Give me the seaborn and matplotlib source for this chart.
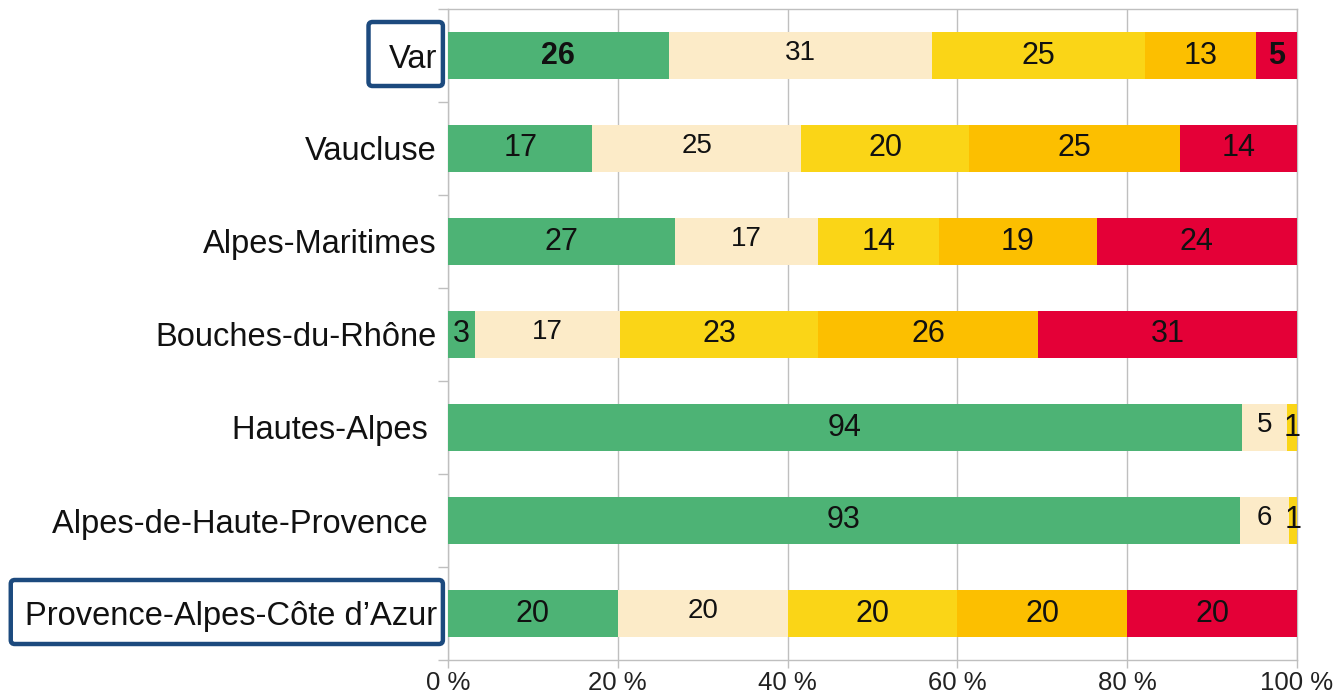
import matplotlib
matplotlib.use("Agg")
import matplotlib.pyplot as plt
import seaborn as sns
import numpy as np
import pandas as pd
from matplotlib.patches import FancyBboxPatch
from matplotlib.ticker import FixedLocator

categories = ["Var", "Vaucluse", "Alpes-Maritimes", "Bouches-du-Rhône",
              "Hautes-Alpes ", "Alpes-de-Haute-Provence ", "Provence-Alpes-Côte d’Azur"]
seg1 = [26.0, 17.0, 26.7, 3.2, 93.5, 93.3, 20.0]
seg2 = [31.0, 24.6, 16.9, 17.1, 5.3, 5.8, 20.0]
seg3 = [25.1, 19.8, 14.2, 23.3, 1.2, 0.9, 20.0]
seg4 = [13.1, 24.8, 18.6, 25.9, 0.0, 0.0, 20.0]
seg5 = [4.8, 13.8, 23.6, 30.5, 0.0, 0.0, 20.0]
labels1 = ["26", "17", "27", "3", "94", "93", "20"]
labels2 = ["31", "25", "17", "17", "5", "6", "20"]
labels3 = ["25", "20", "14", "23", "1", "1", "20"]
labels4 = ["13", "25", "19", "26", "", "", "20"]
labels5 = ["5", "14", "24", "31", "", "", "20"]
colors = ["#4db375", "#fcebc8", "#fad517", "#fcbf00", "#e40037"]
xticks = [0, 20, 40, 60, 80, 100]
xticklabels = ["0 %", "20 %", "40 %", "60 %", "80 %", "100 %"]
boxed = {"Var": 20, "Provence-Alpes-Côte d’Azur": 14}
bold_cells = [(0, 0), (0, 4)]

segs = [seg1, seg2, seg3, seg4, seg5]
labs = [labels1, labels2, labels3, labels4, labels5]

sns.set_theme(style="white")
plt.rcParams["font.family"] = ["Liberation Sans", "DejaVu Sans"]

fig = plt.figure(figsize=(13.35, 6.95), dpi=100)
ax = fig.add_axes([448/1335, 35/695, (1297-448)/1335, (660-9)/695])

cum = np.cumsum(np.array(segs), axis=0)
df = pd.DataFrame({"cat": categories})
for k in range(4, -1, -1):
    df["v"] = cum[k]
    sns.barplot(data=df, x="v", y="cat", orient="h", color=colors[k],
                saturation=1, width=0.5, ax=ax, zorder=3 + (4 - k),
                linewidth=0, edgecolor="none")

for k in range(5):
    left = cum[k] - np.array(segs[k])
    for i, cat in enumerate(categories):
        txt = labs[k][i]
        if not txt:
            continue
        cx = left[i] + segs[k][i] / 2
        bold = (i, k) in bold_cells
        fs = 22 if k != 1 else 20
        dy = 0 if k != 1 else -0.03
        ax.text(cx, i + dy, txt, ha="center", va="center", fontsize=fs,
                fontweight="bold" if bold else "normal", color="#111111", zorder=20)

ax.set_xlim(0, 100)
ax.set_ylim(len(categories) - 0.5, -0.5)
ax.set_xticks(xticks)
ax.set_xticklabels(xticklabels, fontsize=18.5, color="#222222")
ax.set_xlabel("")
ax.set_ylabel("")
ax.tick_params(axis="x", which="major", length=6, width=1, color="#bfbfbf",
               direction="out", bottom=True, pad=2)
ax.tick_params(axis="y", which="major", length=0, pad=8, labelsize=23.5,
               labelcolor="#111111")
ax.yaxis.set_minor_locator(FixedLocator(np.arange(-0.5, len(categories), 1.0)))
ax.tick_params(axis="y", which="minor", length=7, width=1, color="#bfbfbf",
               direction="out", left=True)
ax.grid(axis="x", color="#bfbfbf", linewidth=1, zorder=0)
ax.grid(axis="y", visible=False)
ax.set_axisbelow(True)
for s in ax.spines.values():
    s.set_visible(True)
    s.set_color("#bfbfbf")
    s.set_linewidth(1)

fig.canvas.draw()
renderer = fig.canvas.get_renderer()
for i, lab in enumerate(ax.get_yticklabels()):
    name = lab.get_text()
    if name in boxed:
        bb = lab.get_window_extent(renderer)
        yc = ax.transData.transform((0, i))[1] + 1.5
        x0 = bb.x0 - boxed[name]
        w = bb.width + boxed[name] + 6
        h = 64
        p = FancyBboxPatch((x0, yc - h / 2), w, h, boxstyle="round,pad=0,rounding_size=4",
                           transform=None, fill=False, edgecolor="#1c4a7e",
                           linewidth=3.2, zorder=30, clip_on=False)
        fig.patches.append(p)

fig.savefig("out.png", dpi=100)
